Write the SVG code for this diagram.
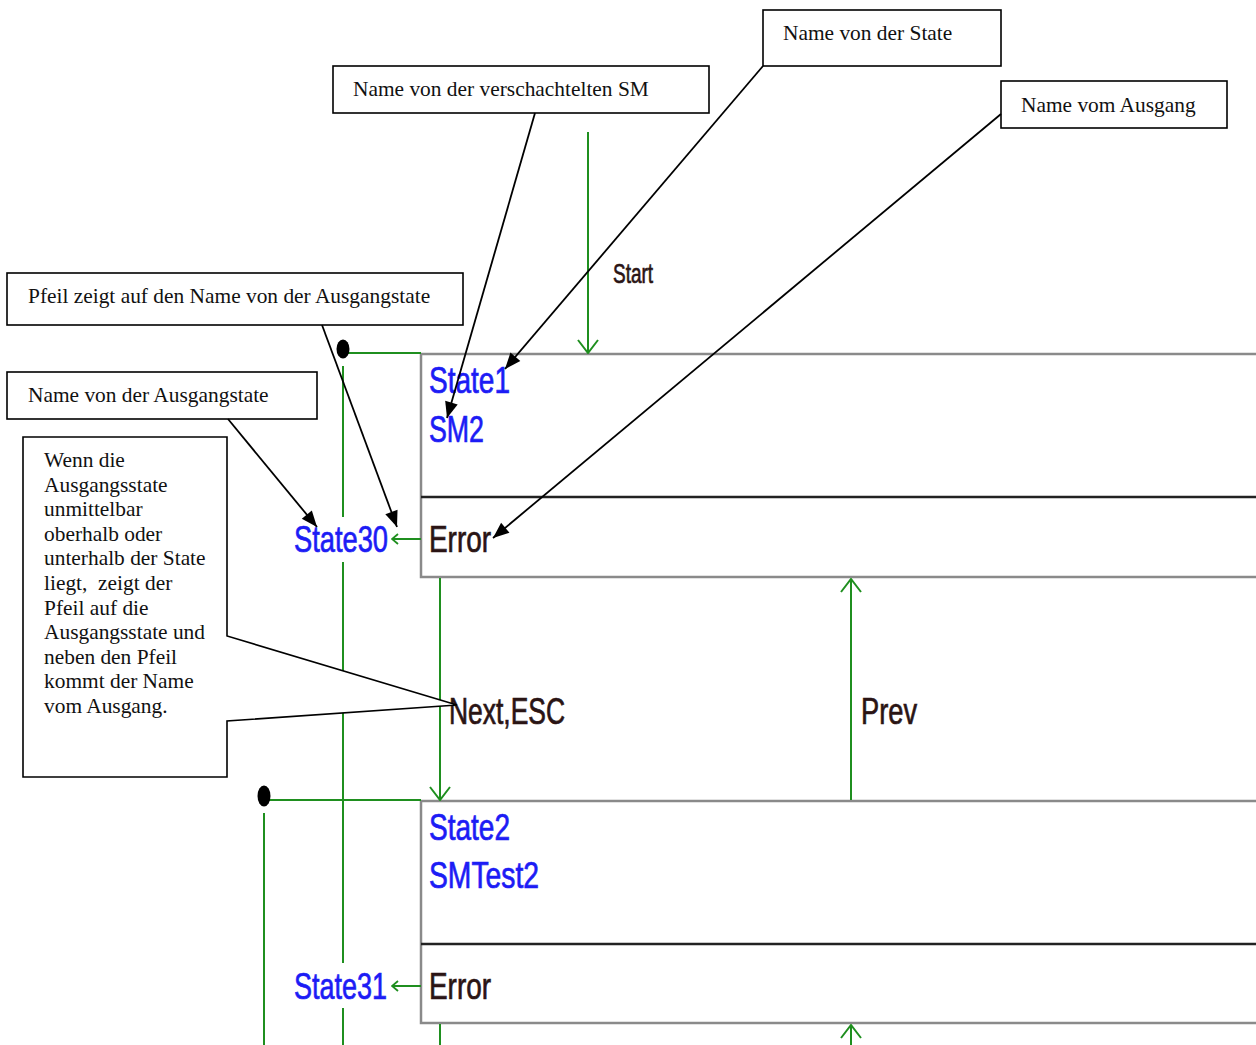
<svg xmlns="http://www.w3.org/2000/svg" width="1256" height="1045" viewBox="0 0 1256 1045">
  <defs>
    <style>
      .bg { fill: #ffffff; }
      .state { fill: none; stroke: #8a8a8a; stroke-width: 2.5; }
      .divider { fill: none; stroke: #222222; stroke-width: 2.5; }
      .wire { fill: none; stroke: #1f8f1f; stroke-width: 2; }
      .dot { fill: #000000; }
      .lbl { font-family: "Liberation Sans", Arial, sans-serif; font-size: 36px; stroke-width: 0.7; }
      .blue { fill: #1c1cf5; stroke: #1c1cf5; }
      .dark { fill: #2a1414; stroke: #2a1414; }
      .note { fill: #ffffff; stroke: #000000; stroke-width: 1.6; }
      .ntxt { font-family: "Liberation Serif", "Times New Roman", serif; font-size: 21.4px; fill: #111111; white-space: pre; }
      .ptr { fill: none; stroke: #000000; stroke-width: 1.8; }
    </style>
    <marker id="chev" markerUnits="userSpaceOnUse" viewBox="-15 -11 16 22" markerWidth="16" markerHeight="22" refX="0" refY="0" orient="auto">
      <path d="M-13,-10 L0,0 L-13,10" fill="none" stroke="#1f8f1f" stroke-width="2"/>
    </marker>
    <marker id="chevS" markerUnits="userSpaceOnUse" viewBox="-8 -6 9 12" markerWidth="9" markerHeight="12" refX="0" refY="0" orient="auto">
      <path d="M-6,-5 L0,0 L-6,5" fill="none" stroke="#1f8f1f" stroke-width="1.8"/>
    </marker>
    <marker id="tip" markerUnits="userSpaceOnUse" viewBox="-17 -7 18 14" markerWidth="18" markerHeight="14" refX="0" refY="0" orient="auto">
      <path d="M-16,-6.5 L0,0 L-16,6.5 Z" fill="#000000"/>
    </marker>
  </defs>

  <rect class="bg" x="0" y="0" width="1256" height="1045"/>

  <!-- state 1 -->
  <g id="state1">
    <rect class="state" x="421" y="354" width="850" height="223"/>
    <line class="divider" x1="421" y1="497" x2="1271" y2="497"/>
    <text class="lbl blue" x="429" y="393" textLength="81" lengthAdjust="spacingAndGlyphs">State1</text>
    <text class="lbl blue" x="429" y="442" textLength="55" lengthAdjust="spacingAndGlyphs">SM2</text>
    <text class="lbl dark" x="429" y="552" textLength="62" lengthAdjust="spacingAndGlyphs">Error</text>
  </g>

  <!-- state 2 -->
  <g id="state2">
    <rect class="state" x="421" y="801" width="850" height="222"/>
    <line class="divider" x1="421" y1="944" x2="1271" y2="944"/>
    <text class="lbl blue" x="429" y="840" textLength="81" lengthAdjust="spacingAndGlyphs">State2</text>
    <text class="lbl blue" x="429" y="888" textLength="110" lengthAdjust="spacingAndGlyphs">SMTest2</text>
    <text class="lbl dark" x="429" y="999" textLength="62" lengthAdjust="spacingAndGlyphs">Error</text>
  </g>

  <!-- exit targets -->
  <g id="exit30">
    <text class="lbl blue" x="294" y="552" textLength="94" lengthAdjust="spacingAndGlyphs">State30</text>
  </g>
  <g id="exit31">
    <text class="lbl blue" x="294" y="999" textLength="93" lengthAdjust="spacingAndGlyphs">State31</text>
  </g>

  <!-- transitions -->
  <g id="connectors">
    <line class="wire" x1="588" y1="132" x2="588" y2="353" marker-end="url(#chev)"/>
    <text class="lbl dark" x="613" y="283" style="font-size:28px" textLength="40" lengthAdjust="spacingAndGlyphs">Start</text>

    <line class="wire" x1="343" y1="353" x2="421" y2="353"/>
    <ellipse class="dot" cx="343" cy="349" rx="6.5" ry="9.5"/>
    <line class="wire" x1="343" y1="366" x2="343" y2="517"/>
    <line class="wire" x1="343" y1="562" x2="343" y2="963"/>
    <line class="wire" x1="343" y1="1008" x2="343" y2="1045"/>

    <line class="wire" x1="421" y1="539" x2="392" y2="539" marker-end="url(#chevS)"/>

    <line class="wire" x1="440" y1="578" x2="440" y2="800" marker-end="url(#chev)"/>
    <text class="lbl dark" x="449" y="724" textLength="116" lengthAdjust="spacingAndGlyphs">Next,ESC</text>

    <line class="wire" x1="851" y1="800" x2="851" y2="579" marker-end="url(#chev)"/>
    <text class="lbl dark" x="861" y="724" textLength="56" lengthAdjust="spacingAndGlyphs">Prev</text>

    <line class="wire" x1="264" y1="800" x2="421" y2="800"/>
    <ellipse class="dot" cx="264" cy="796" rx="6.5" ry="10.5"/>
    <line class="wire" x1="264" y1="813" x2="264" y2="1045"/>

    <line class="wire" x1="421" y1="986" x2="392" y2="986" marker-end="url(#chevS)"/>

    <line class="wire" x1="440" y1="1024" x2="440" y2="1045"/>
    <line class="wire" x1="851" y1="1050" x2="851" y2="1025" marker-end="url(#chev)"/>
  </g>

  <!-- annotations -->
  <g id="note-state">
    <rect class="note" x="763" y="10" width="238" height="56"/>
    <text class="ntxt" x="783" y="40">Name von der State</text>
  </g>
  <g id="note-sm">
    <rect class="note" x="333" y="66" width="376" height="47"/>
    <text class="ntxt" x="353" y="96">Name von der verschachtelten SM</text>
  </g>
  <g id="note-exit">
    <rect class="note" x="1001" y="81" width="226" height="47"/>
    <text class="ntxt" x="1021" y="112">Name vom Ausgang</text>
  </g>
  <g id="note-arrow">
    <rect class="note" x="7" y="273" width="456" height="52"/>
    <text class="ntxt" x="28" y="303">Pfeil zeigt auf den Name von der Ausgangstate</text>
  </g>
  <g id="note-exitstate">
    <rect class="note" x="7" y="372" width="310" height="47"/>
    <text class="ntxt" x="28" y="402">Name von der Ausgangstate</text>
  </g>
  <g id="note-adjacent">
    <path class="note" d="M23,437 L227,437 L227,636 L457,705 L227,721 L227,777 L23,777 Z"/>
    <text class="ntxt" x="44" xml:space="preserve"><tspan x="44" y="467">Wenn die</tspan><tspan x="44" y="491.6">Ausgangsstate</tspan><tspan x="44" y="516.2">unmittelbar</tspan><tspan x="44" y="540.8">oberhalb oder</tspan><tspan x="44" y="565.4">unterhalb der State</tspan><tspan x="44" y="590">liegt,  zeigt der</tspan><tspan x="44" y="614.6">Pfeil auf die</tspan><tspan x="44" y="639.2">Ausgangsstate und</tspan><tspan x="44" y="663.8">neben den Pfeil</tspan><tspan x="44" y="688.4">kommt der Name</tspan><tspan x="44" y="713">vom Ausgang.</tspan></text>
  </g>

  <!-- pointers from annotations -->
  <g id="pointers">
    <line class="ptr" x1="763" y1="66" x2="505" y2="369" marker-end="url(#tip)"/>
    <line class="ptr" x1="535" y1="113" x2="447" y2="418" marker-end="url(#tip)"/>
    <line class="ptr" x1="1001" y1="114" x2="493" y2="538" marker-end="url(#tip)"/>
    <line class="ptr" x1="322" y1="325" x2="397" y2="527" marker-end="url(#tip)"/>
    <line class="ptr" x1="228" y1="419" x2="317" y2="527" marker-end="url(#tip)"/>
  </g>
</svg>
